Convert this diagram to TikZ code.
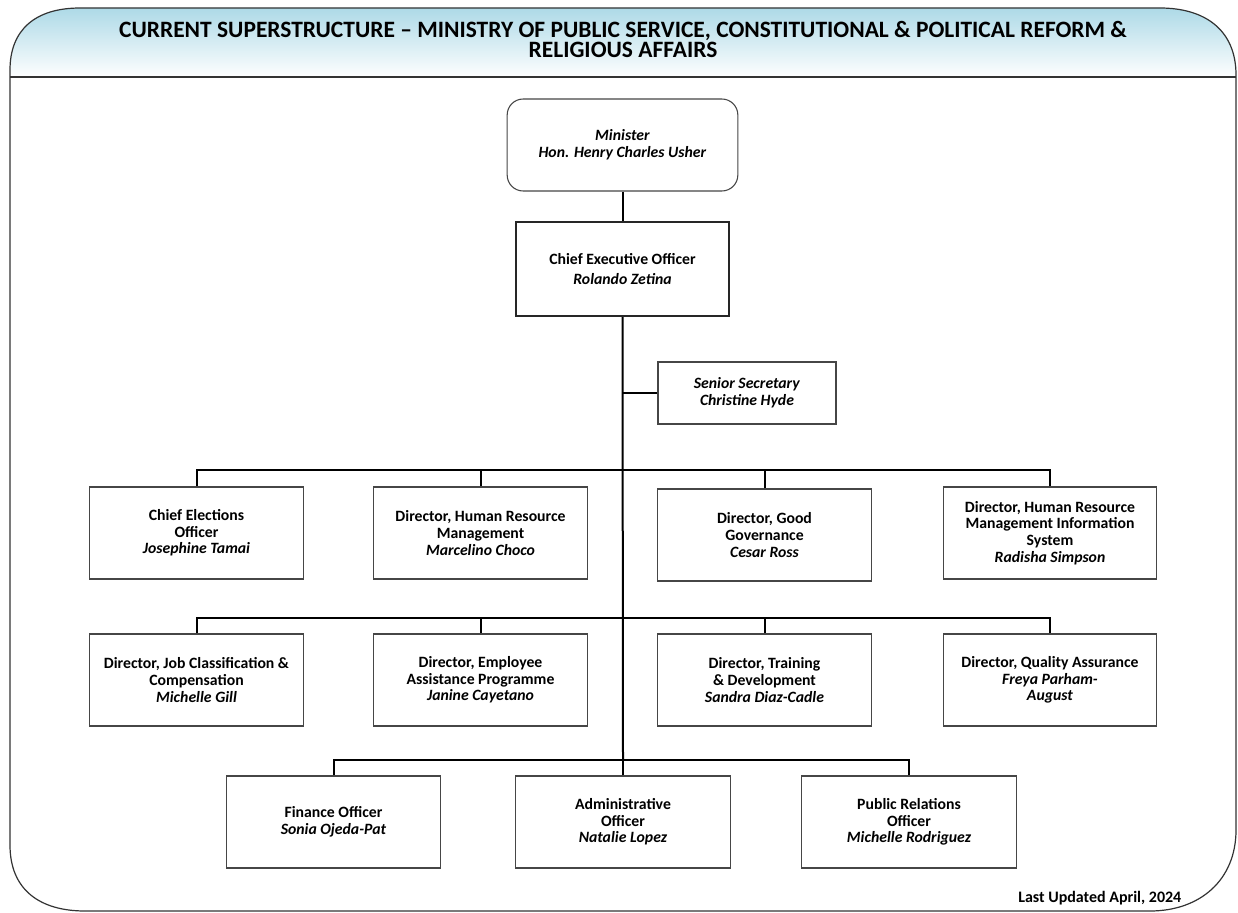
\documentclass[tikz,border=0pt]{standalone}
\usepackage{fontspec}
\setmainfont{Carlito}
\definecolor{hdrblue}{RGB}{170,216,230}
\definecolor{boxline}{RGB}{70,70,70}
\begin{document}
\begin{tikzpicture}[x=0.75pt,y=-0.75pt,
  box/.style={draw=boxline,line width=0.8pt,fill=white,align=center,inner sep=0pt,
    minimum width=160pt,minimum height=69pt,font=\fontsize{11.8}{12.5}\selectfont\bfseries},
  conn/.style={line width=1.5pt,black}]
\useasboundingbox (0,0) rectangle (1238,913);
% header shading
\begin{scope}
\clip (10,77) -- (10,70) .. controls (10,30) and (35,8) .. (80,8) -- (1160,8)
  .. controls (1205,8) and (1236,30) .. (1236,75) -- (1236,77) -- cycle;
\shade[top color=hdrblue,bottom color=white] (0,5) rectangle (1238,78);
\end{scope}
% outer frame
\draw[line width=0.9pt,black!80] (10,77) -- (10,70) .. controls (10,30) and (35,8) .. (80,8) -- (1160,8)
  .. controls (1205,8) and (1236,30) .. (1236,75) -- (1236,830)
  .. controls (1236,880) and (1200,911) .. (1150,911) -- (85,911)
  .. controls (40,911) and (10,890) .. (10,845) -- cycle;
\draw[line width=0.9pt,black!80] (10,77) -- (1236,77);
\node[font=\fontsize{17.6}{13}\selectfont\bfseries,align=center] (title) at (623,39.5)
  {CURRENT SUPERSTRUCTURE -- MINISTRY OF PUBLIC SERVICE, CONSTITUTIONAL \& POLITICAL REFORM \&\\RELIGIOUS AFFAIRS};
% top
\node[box,rounded corners=12pt,minimum width=173pt] (min) at (622.5,145)
  {\textit{Minister}\\\textit{Hon. Henry Charles Usher}};
\node[box,line width=1.8pt,draw=black!85,minimum height=70.5pt] (ceo) at (622.5,269)
  {Chief Executive Officer\\[3pt]\textit{Rolando Zetina}};
\node[box,minimum width=133.5pt,minimum height=46.5pt] (ss) at (747,393)
  {\textit{Senior Secretary}\\\textit{Christine Hyde}};
% row 1
\node[box] (r1a) at (196.5,533) {Chief Elections\\Officer\\\textit{Josephine Tamai}};
\node[box] (r1b) at (480.5,533) {Director, Human Resource\\Management\\\textit{Marcelino Choco}};
\node[box] (r1c) at (764.5,535) {Director, Good\\Governance\\\textit{Cesar Ross}};
\node[box] (r1d) at (1050,533) {Director, Human Resource\\Management Information\\System\\\textit{Radisha Simpson}};
% row 2
\node[box] (r2a) at (196.5,680) {Director, Job Classification \&\\Compensation\\\textit{Michelle Gill}};
\node[box] (r2b) at (480.5,680) {Director, Employee\\Assistance Programme\\\textit{Janine Cayetano}};
\node[box] (r2c) at (764.5,680) {Director, Training\\\& Development\\\textit{Sandra Diaz-Cadle}};
\node[box] (r2d) at (1050,680) {Director, Quality Assurance\\\textit{Freya Parham-}\\\textit{August}};
% row 3
\node[box,minimum width=161pt] (r3a) at (333.5,822) {Finance Officer\\\textit{Sonia Ojeda-Pat}};
\node[box,minimum width=161pt] (r3b) at (623,822) {Administrative\\Officer\\\textit{Natalie Lopez}};
\node[box,minimum width=161pt] (r3c) at (909,822) {Public Relations\\Officer\\\textit{Michelle Rodriguez}};
% bus coordinates
\coordinate (b1) at (623,470);
\coordinate (b2) at (623,618);
\coordinate (b3) at (623,760);
% connectors
\draw[conn] (min.south) -- (ceo.north);
\draw[conn] (ceo.south) -- (b3);
\draw[conn] (ss.west) -- (ss.west -| ceo.south);
\foreach \n in {r1a,r1b,r1c,r1d} \draw[conn] (\n.north) |- (b1);
\foreach \n in {r2a,r2b,r2c,r2d} \draw[conn] (\n.north) |- (b2);
\foreach \n in {r3a,r3b,r3c} \draw[conn] (\n.north) |- (b3);
\node[font=\fontsize{12}{14}\selectfont\bfseries,anchor=east] (upd) at (1186,898) {Last Updated April, 2024};
\end{tikzpicture}
\end{document}
